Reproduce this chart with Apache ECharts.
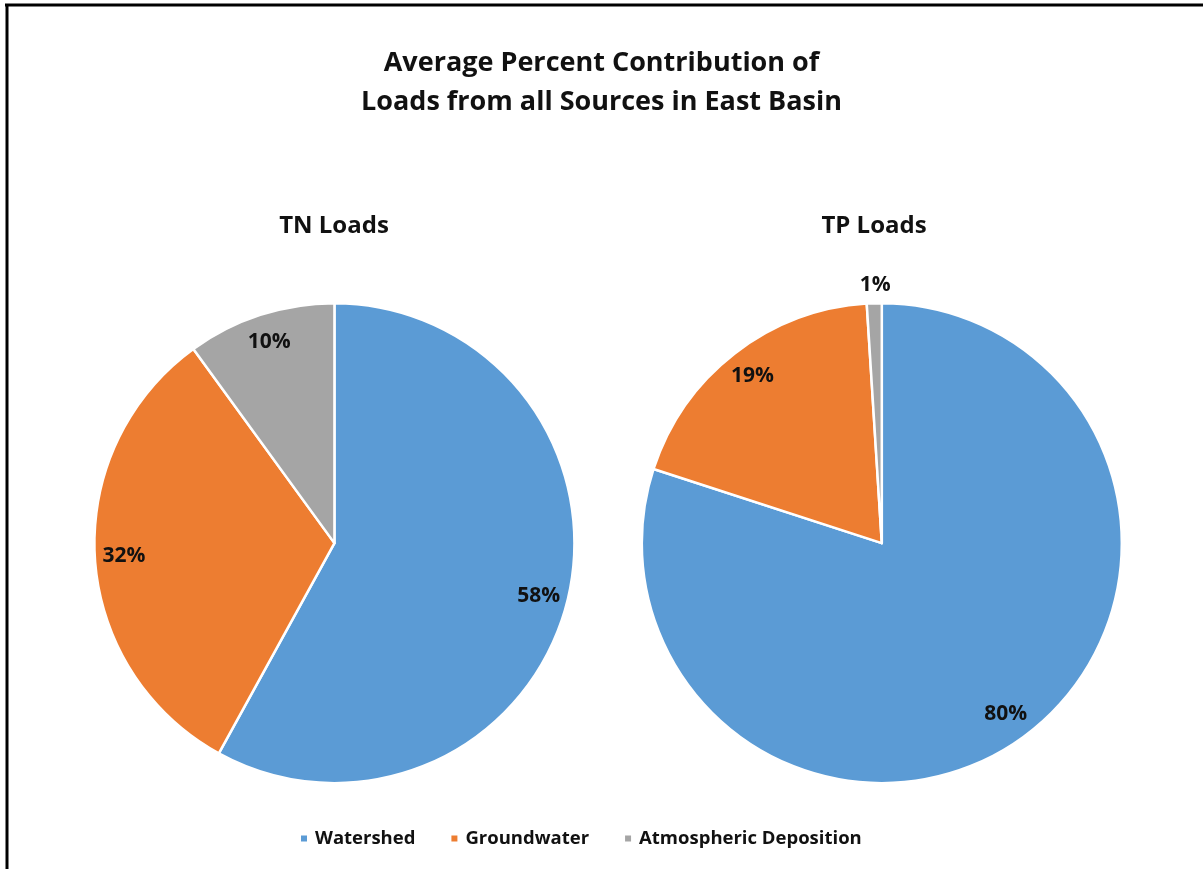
<!DOCTYPE html>
<html>
<head>
<meta charset="utf-8">
<script src="https://cdn.jsdelivr.net/npm/echarts@6/dist/echarts.min.js"></script>
<style>
  html, body { margin: 0; padding: 0; background: #fff; }
  #chart { width: 1203px; height: 869px; }
</style>
</head>
<body>
<div id="chart"></div>
<script>
const sources = ['Watershed', 'Groundwater', 'Atmospheric Deposition'];
const colors = ['#5B9BD5', '#ED7D31', '#A5A5A5'];
const tnValues = [58, 32, 10];
const tpValues = [80, 19, 1];
const pieTitles = ['TN Loads', 'TP Loads'];

const FONT = '"Open Sans", Lato, sans-serif';
const centers = [['27.8%', '62.5%'], ['73.3%', '62.5%']];
const R = 240;

function toData(values) {
  return values.map((v, i) => ({ name: sources[i], value: v, itemStyle: { color: colors[i] } }));
}

function pieSeries(values, idx) {
  // filled wedges
  const base = {
    type: 'pie',
    center: centers[idx],
    radius: [0, R],
    startAngle: 90,
    clockwise: true,
    avoidLabelOverlap: false,
    label: { show: false },
    labelLine: { show: false },
    itemStyle: { borderColor: '#fff', borderWidth: 2.5 },
    emphasis: { disabled: true },
    data: toData(values)
  };
  // transparent ring that carries the percentage labels near the rim
  const labels = {
    type: 'pie',
    center: centers[idx],
    radius: [176, R],
    startAngle: 90,
    clockwise: true,
    avoidLabelOverlap: false,
    silent: true,
    legendHoverLink: false,
    labelLine: { show: false },
    emphasis: { disabled: true },
    label: {
      show: true,
      position: 'inside',
      formatter: '{c}%',
      color: '#111',
      fontFamily: FONT,
      fontWeight: 'bold',
      fontSize: 21
    },
    data: values.map((v, i) => {
      const d = { name: sources[i], value: v, itemStyle: { color: 'rgba(0,0,0,0)', borderWidth: 0 } };
      if (v < 3) d.label = { offset: [0, -47] };
      return d;
    })
  };
  return [base, labels];
}

const chart = echarts.init(document.getElementById('chart'), null, { renderer: 'canvas' });
chart.setOption({
  backgroundColor: '#fff',
  animation: false,
  color: colors,
  title: [
    {
      text: 'Average Percent Contribution of\nLoads from all Sources in East Basin',
      left: 'center',
      top: 39,
      textStyle: { fontFamily: FONT, fontWeight: 'bold', fontSize: 27, color: '#111', lineHeight: 39 }
    },
    {
      text: pieTitles[0],
      left: 329, top: 209,
      textAlign: 'center',
      textStyle: { fontFamily: FONT, fontWeight: 'bold', fontSize: 24, color: '#111' }
    },
    {
      text: pieTitles[1],
      left: 869, top: 209,
      textAlign: 'center',
      textStyle: { fontFamily: FONT, fontWeight: 'bold', fontSize: 24, color: '#111' }
    }
  ],
  legend: {
    data: sources,
    bottom: 16,
    left: 294,
    icon: 'rect',
    itemWidth: 8,
    itemHeight: 8,
    itemGap: 34,
    selectedMode: false,
    textStyle: { fontFamily: FONT, fontWeight: 'bold', fontSize: 18.5, color: '#111', padding: [0, 0, 0, 2] }
  },
  graphic: [
    { type: 'line', shape: { x1: 5, y1: 5, x2: 1210, y2: 5 }, style: { stroke: '#000', lineWidth: 3 } },
    { type: 'line', shape: { x1: 7, y1: 4, x2: 7, y2: 880 }, style: { stroke: '#000', lineWidth: 3 } }
  ],
  series: [...pieSeries(tnValues, 0), ...pieSeries(tpValues, 1)]
});
</script>
</body>
</html>
